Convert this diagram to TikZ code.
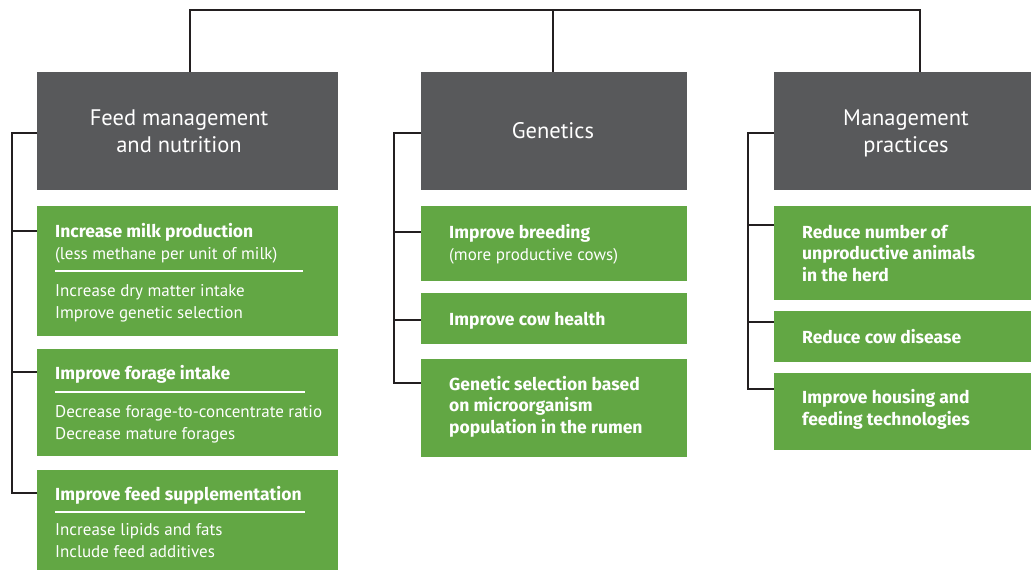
\documentclass[tikz,border=0pt]{standalone}
\usepackage{fontspec}
\setmainfont{PT Sans}
\newfontfamily\leafbf{Fira Sans}
\definecolor{headgray}{HTML}{58595B}
\definecolor{leafgreen}{HTML}{62A744}
\definecolor{linkblack}{HTML}{231F20}

\begin{document}
\begin{tikzpicture}[x=1pt,y=-1pt,
	headbox/.style={fill=headgray, anchor=north west, inner sep=0},
	leafbox/.style={fill=leafgreen, anchor=north west, inner sep=0},
	headtext/.style={text=white, font=\fontsize{22.5}{27}\selectfont, align=center, anchor=base, inner sep=0},
	leaftext/.style={text=white, font=\fontsize{17.5}{21.5}\selectfont\leafbf\bfseries, align=left, anchor=base west, inner sep=0},
	subtext/.style={leaftext, font=\fontsize{17}{21.5}\selectfont},
	link/.style={draw=linkblack, line width=2.4pt},
	rule/.style={draw=white, line width=1.8pt}]
		\useasboundingbox (0,0) rectangle (1031,570);
		
		% Define heads
		\node[headbox, minimum width=301, minimum height=118] (Feed) at (37,72) {};
		\node[headbox, minimum width=266, minimum height=118] (Gen) at (421,72) {};
		\node[headbox, minimum width=257, minimum height=118] (Mgmt) at (774,72) {};
		\node[headtext] (FeedText) at (179,152) {Feed management\\and nutrition};
		\node[headtext] (GenText) at (553,138) {Genetics};
		\node[headtext] (MgmtText) at (906,152) {Management\\practices};
		
		\coordinate (BusFeed) at (190,10);
		\coordinate (BusGen) at (553,10);
		\coordinate (BusMgmt) at (920,10);
		\draw[link] (BusFeed |- Feed.north) -- (BusFeed) -- (BusMgmt) -- (BusMgmt |- Mgmt.north);
		\draw[link] (BusGen) -- (BusGen |- Gen.north);
		
		
		% Define feed management and nutrition
		\node[leafbox, minimum width=301, minimum height=130] (Feed1) at (37,206) {};
		\node[leafbox, minimum width=301, minimum height=107] (Feed2) at (37,349) {};
		\node[leafbox, minimum width=301, minimum height=100] (Feed3) at (37,470) {};
		
		\node[leaftext] (Feed1Head) at (55,237) {Increase milk production};
		\node[subtext] (Feed1Sub) at (55,259) {(less methane per unit of milk)};
		\node[subtext] (Feed1Body) at (55,318) {Increase dry matter intake\\Improve genetic selection};
		\draw[rule] (55,271) -- (303,271);
		
		\node[leaftext] (Feed2Head) at (55,379) {Improve forage intake};
		\node[subtext] (Feed2Body) at (55,439) {Decrease forage-to-concentrate ratio\\Decrease mature forages};
		\draw[rule] (55,392) -- (305,392);
		
		\node[leaftext] (Feed3Head) at (55,500) {Improve feed supplementation};
		\node[subtext] (Feed3Body) at (55,557) {Increase lipids and fats\\Include feed additives};
		\draw[rule] (55,512) -- (305,512);
		
		\coordinate (FeedTop) at (12,133);
		\coordinate (Feed1Tap) at (12,231);
		\coordinate (Feed2Tap) at (12,372);
		\coordinate (FeedBot) at (12,493);
		\draw[link] (FeedTop -| Feed.west) -- (FeedTop) -- (FeedBot) -- (FeedBot -| Feed3.west);
		\draw[link] (Feed1Tap) -- (Feed1Tap -| Feed1.west);
		\draw[link] (Feed2Tap) -- (Feed2Tap -| Feed2.west);
		
		
		% Define genetics
		\node[leafbox, minimum width=266, minimum height=75] (Gen1) at (421,206) {};
		\node[leafbox, minimum width=266, minimum height=51] (Gen2) at (421,293) {};
		\node[leafbox, minimum width=266, minimum height=98] (Gen3) at (421,359) {};
		
		\node[leaftext] (Gen1Text) at (449,238) {Improve breeding};
		\node[subtext] (Gen1Sub) at (449,260) {(more productive cows)};
		\node[leaftext] (Gen2Text) at (449,325) {Improve cow health};
		\node[leaftext] (Gen3Text) at (449,433) {Genetic selection based\\on microorganism\\population in the rumen};
		
		\coordinate (GenTop) at (394,133);
		\coordinate (Gen1Tap) at (394,232);
		\coordinate (Gen2Tap) at (394,320);
		\coordinate (GenBot) at (394,383);
		\draw[link] (GenTop -| Gen.west) -- (GenTop) -- (GenBot) -- (GenBot -| Gen3.west);
		\draw[link] (Gen1Tap) -- (Gen1Tap -| Gen1.west);
		\draw[link] (Gen2Tap) -- (Gen2Tap -| Gen2.west);
		
		
		% Define management practices
		\node[leafbox, minimum width=257, minimum height=94] (Mgmt1) at (774,206) {};
		\node[leafbox, minimum width=257, minimum height=51] (Mgmt2) at (774,311) {};
		\node[leafbox, minimum width=257, minimum height=77] (Mgmt3) at (774,373) {};
		
		\node[leaftext] (Mgmt1Text) at (802,281) {Reduce number of\\unproductive animals\\in the herd};
		\node[leaftext] (Mgmt2Text) at (802,343) {Reduce cow disease};
		\node[leaftext] (Mgmt3Text) at (802,425) {Improve housing and\\feeding technologies};
		
		\coordinate (MgmtTop) at (748,133);
		\coordinate (Mgmt1Tap) at (748,225);
		\coordinate (Mgmt2Tap) at (748,322);
		\coordinate (MgmtBot) at (748,389);
		\draw[link] (MgmtTop -| Mgmt.west) -- (MgmtTop) -- (MgmtBot) -- (MgmtBot -| Mgmt3.west);
		\draw[link] (Mgmt1Tap) -- (Mgmt1Tap -| Mgmt1.west);
		\draw[link] (Mgmt2Tap) -- (Mgmt2Tap -| Mgmt2.west);
\end{tikzpicture}
\end{document}
